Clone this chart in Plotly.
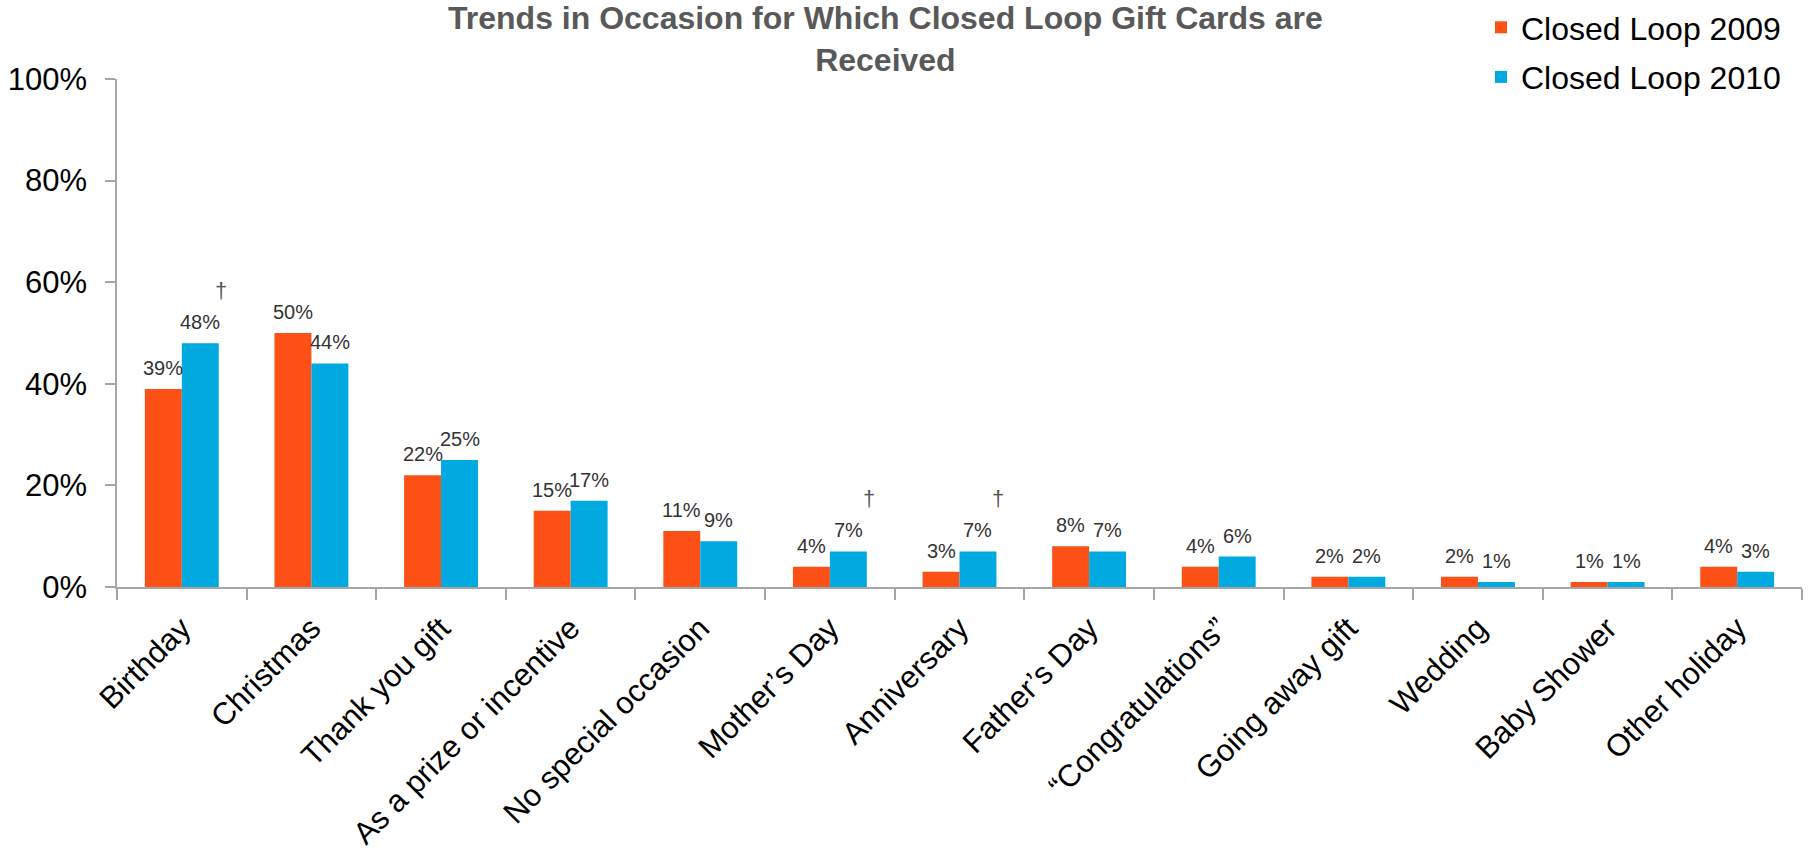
import plotly.graph_objects as go

# Occasions for which closed loop gift cards were received (% of recipients)
occasions = [
    "Birthday", "Christmas", "Thank you gift", "As a prize or incentive",
    "No special occasion", "Mother\u2019s Day", "Anniversary", "Father\u2019s Day",
    "\u201cCongratulations\u201d", "Going away gift", "Wedding", "Baby Shower",
    "Other holiday",
]
closed_loop_2009 = [39, 50, 22, 15, 11, 4, 3, 8, 4, 2, 2, 1, 4]
closed_loop_2010 = [48, 44, 25, 17, 9, 7, 7, 7, 6, 2, 1, 1, 3]
# significant change markers shown above the 2010 bars
change_marks_2010 = ["\u2020", "", "", "", "", "\u2020", "\u2020", "", "", "", "", "", ""]

y_ticks = [0, 20, 40, 60, 80, 100]
y_tick_labels = ["0%", "20%", "40%", "60%", "80%", "100%"]

ORANGE = "#FC5016"
BLUE = "#00A9DF"
FONT = "Liberation Sans, Arial, sans-serif"

W, H = 1808, 859
M_L, M_R, M_T, M_B = 117, 6, 79, 272
BARGAP = 0.43
plot_h = H - M_T - M_B
cat_px = (W - M_L - M_R) / len(occasions)
bar_px = cat_px * (1 - BARGAP) / 2

fig = go.Figure()
fig.add_trace(go.Bar(name="Closed Loop 2009", x=occasions, y=closed_loop_2009,
                     marker=dict(color=ORANGE, line=dict(width=0)),
                     legendgroup="a"))
fig.add_trace(go.Bar(name="Closed Loop 2010", x=occasions, y=closed_loop_2010,
                     marker=dict(color=BLUE, line=dict(width=0)),
                     legendgroup="b"))

annotations = []
for series, shift in ((closed_loop_2009, -bar_px / 2), (closed_loop_2010, bar_px / 2)):
    for cat, v in zip(occasions, series):
        annotations.append(dict(
            x=cat, y=v, xref="x", yref="y", text=f"{v}%", showarrow=False,
            xanchor="center", yanchor="bottom", xshift=shift, yshift=8,
            font=dict(family=FONT, size=20, color="#333333"),
        ))
for cat, v, mark in zip(occasions, closed_loop_2010, change_marks_2010):
    if mark:
        annotations.append(dict(
            x=cat, y=v, xref="x", yref="y", text=mark, showarrow=False,
            xanchor="center", yanchor="bottom", xshift=bar_px + 2, yshift=38,
            font=dict(family=FONT, size=22, color="#555555"),
        ))

# chart title, two centred lines above the plot area
annotations.append(dict(
    text="<b>Trends in Occasion for Which Closed Loop Gift Cards are<br>Received</b>",
    xref="paper", yref="paper",
    x=(885 - M_L) / (W - M_L - M_R), xanchor="center",
    y=1 + (M_T + 2) / plot_h, yanchor="top",
    showarrow=False, align="center",
    font=dict(family=FONT, size=32, color="#595959"),
))

fig.update_layout(
    width=W, height=H,
    margin=dict(l=M_L, r=M_R, t=M_T, b=M_B, pad=0, autoexpand=False),
    paper_bgcolor="white", plot_bgcolor="white",
    barmode="group", bargap=BARGAP, bargroupgap=0,
    font=dict(family=FONT, color="#000000"),
    legend=dict(
        x=1481 / W, xref="container", xanchor="left",
        y=1.0 + 4 / H, yref="container", yanchor="top",
        font=dict(family=FONT, size=32, color="#000000"),
        bgcolor="rgba(0,0,0,0)", tracegroupgap=5, traceorder="grouped",
    ),
    xaxis=dict(
        type="category", showline=True, linecolor="#A6A6A6", linewidth=1.5,
        ticks="outside", tickson="boundaries", ticklen=11, tickcolor="#A6A6A6",
        tickwidth=1.5, tickangle=-45, showgrid=False, automargin=False,
        ticklabelstandoff=9,
        tickfont=dict(family=FONT, size=31, color="#000000"),
    ),
    yaxis=dict(
        range=[0, 100], tickvals=y_ticks, ticktext=y_tick_labels,
        showline=True, linecolor="#A6A6A6", linewidth=1.5,
        ticks="outside", ticklen=10, tickcolor="#A6A6A6", tickwidth=1.5,
        showgrid=False, zeroline=False, automargin=False,
        ticklabelstandoff=12,
        tickfont=dict(family=FONT, size=31, color="#000000"),
    ),
    annotations=annotations,
)

fig.write_html("out.html")
